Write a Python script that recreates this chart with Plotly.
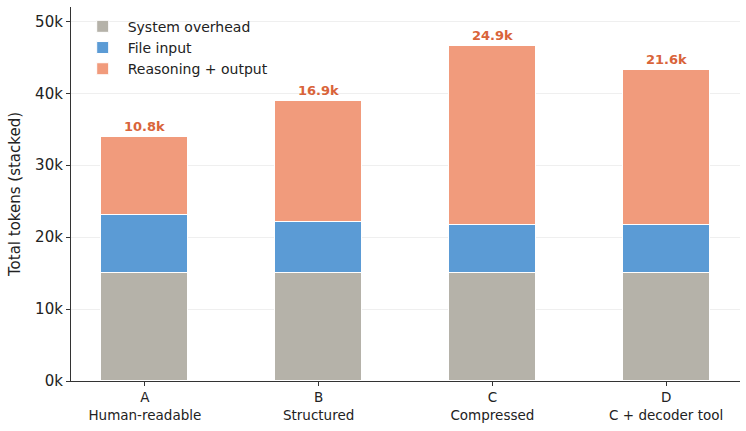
import plotly.graph_objects as go

categories = ["A<br>Human-readable", "B<br>Structured", "C<br>Compressed", "D<br>C + decoder tool"]
system_overhead = [15000, 15000, 15000, 15000]
file_input = [8100, 7100, 6700, 6700]
reasoning_output = [10800, 16900, 24900, 21600]
reasoning_labels = ["10.8k", "16.9k", "24.9k", "21.6k"]

x = list(range(len(categories)))
font_family = "DejaVu Sans"

fig = go.Figure()
series = [
    ("System overhead", system_overhead, "#b5b2a9"),
    ("File input", file_input, "#5b9bd5"),
    ("Reasoning + output", reasoning_output, "#f19b7c"),
]
for name, vals, col in series:
    fig.add_trace(go.Bar(
        x=x, y=vals, name=name, width=0.5,
        marker=dict(color=col, line=dict(color="white", width=1)),
    ))

for i in x:
    total = system_overhead[i] + file_input[i] + reasoning_output[i]
    fig.add_annotation(x=i, y=total, text="<b>%s</b>" % reasoning_labels[i],
                       showarrow=False, yanchor="bottom", yshift=1,
                       font=dict(family=font_family, size=13, color="#d9643a"))

fig.update_layout(
    barmode="stack",
    width=746, height=431,
    margin=dict(l=71, r=6, t=7, b=50),
    plot_bgcolor="white", paper_bgcolor="white",
    font=dict(family=font_family, color="#222222"),
    bargap=0,
    legend=dict(x=0.01, y=0.99, xanchor="left", yanchor="top",
                font=dict(size=14, family=font_family), bgcolor="rgba(255,255,255,0)",
                traceorder="normal", itemwidth=40),
    showlegend=True,
)
fig.update_xaxes(
    range=[-0.425, 3.425], tickmode="array", tickvals=x, ticktext=categories,
    showline=True, linecolor="#333333", linewidth=1.2, ticks="outside", ticklen=4,
    tickcolor="#333333", tickfont=dict(size=13.5, family=font_family), showgrid=False,
)
fig.update_yaxes(
    range=[0, 52000], tickmode="array",
    tickvals=[0, 10000, 20000, 30000, 40000, 50000],
    ticktext=["0k", "10k", "20k", "30k", "40k", "50k"],
    showline=True, linecolor="#333333", linewidth=1.2, ticks="outside", ticklen=4,
    tickcolor="#333333", tickfont=dict(size=15, family=font_family),
    showgrid=True, gridcolor="#efefef", gridwidth=1, zeroline=False,
    title=dict(text="Total tokens (stacked)", font=dict(size=15, family=font_family), standoff=10),
)

fig.write_html("out.html")
